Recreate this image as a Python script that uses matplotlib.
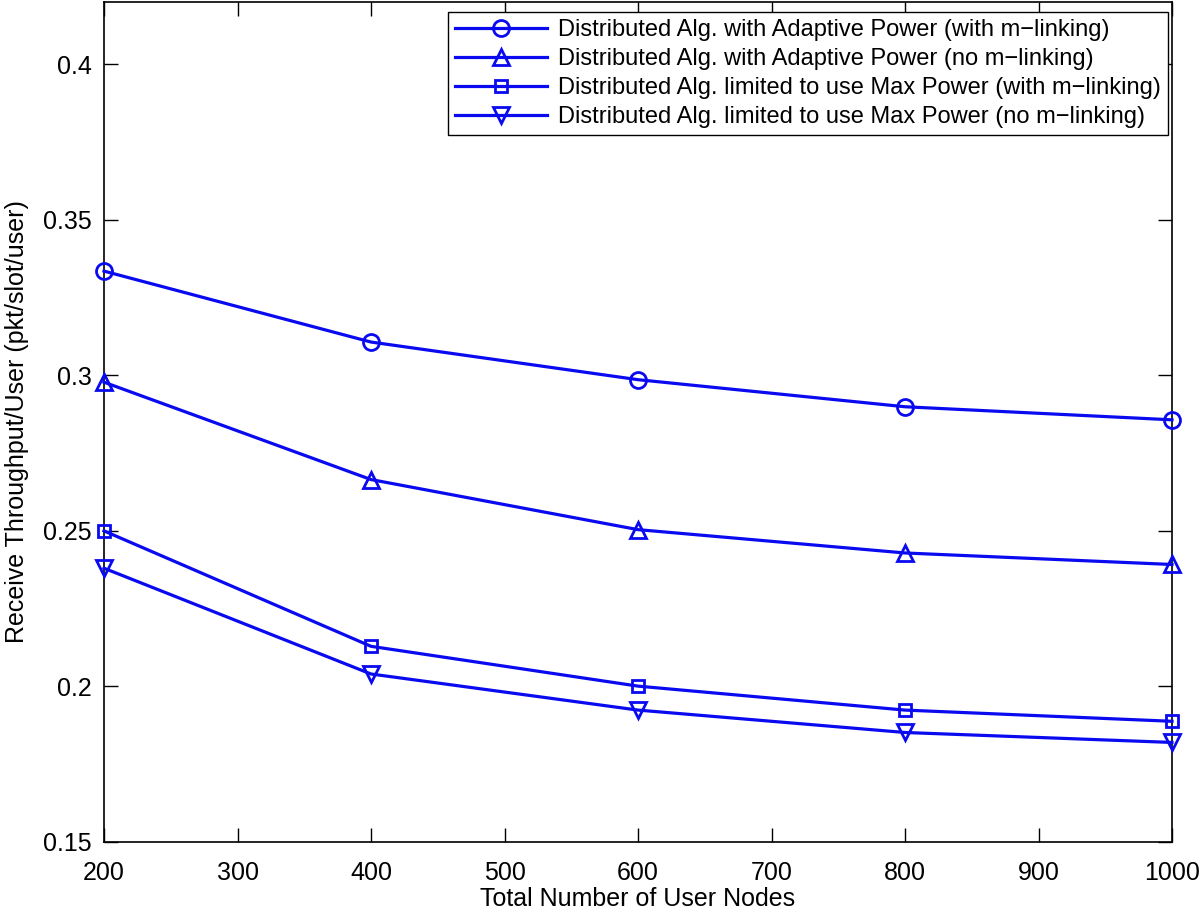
import matplotlib
matplotlib.use('Agg')
import matplotlib.pyplot as plt

plt.rcParams['font.family'] = ['Liberation Sans', 'DejaVu Sans']

nodes = [200, 400, 600, 800, 1000]

adaptive_mlink = [0.3335, 0.3107, 0.2986, 0.2899, 0.2857]
adaptive_nolink = [0.2978, 0.2665, 0.2504, 0.2429, 0.2392]
maxpow_mlink = [0.2500, 0.2129, 0.2001, 0.1924, 0.1888]
maxpow_nolink = [0.2380, 0.2040, 0.1924, 0.1852, 0.1820]

labels = [
    'Distributed Alg. with Adaptive Power (with m\u2212linking)',
    'Distributed Alg. with Adaptive Power (no m\u2212linking)',
    'Distributed Alg. limited to use Max Power (with m\u2212linking)',
    'Distributed Alg. limited to use Max Power (no m\u2212linking)',
]
markers = ['o', '^', 's', 'v']
series = [adaptive_mlink, adaptive_nolink, maxpow_mlink, maxpow_nolink]

fig = plt.figure(figsize=(12, 9.14), dpi=100)
ax = fig.add_axes([104 / 1200, 1 - 842 / 914, (1172 - 104) / 1200, 840 / 914])

msizes = [11.5, 11, 9, 11]
for vals, mk, lab, ms in zip(series, markers, labels, msizes):
    ax.plot(nodes, vals, color='#0a0af0', linewidth=2.3, marker=mk,
            markersize=ms, markerfacecolor='none', markeredgewidth=2.0,
            label=lab, clip_on=False, zorder=3)

ax.set_xlim(200, 1000)
ax.set_ylim(0.15, 0.42)
ax.set_xticks([200, 300, 400, 500, 600, 700, 800, 900, 1000])
ax.set_yticks([0.15, 0.2, 0.25, 0.3, 0.35, 0.4])
ax.set_yticklabels(['0.15', '0.2', '0.25', '0.3', '0.35', '0.4'])
ax.tick_params(direction='in', length=10, width=1, labelsize=18,
               top=True, right=True)
ax.tick_params(axis='x', pad=14)
ax.tick_params(axis='y', pad=9)
for sp in ax.spines.values():
    sp.set_linewidth(1.2)

ax.set_xlabel('Total Number of User Nodes', fontsize=18, labelpad=1)
ax.set_ylabel('Receive Throughput/User (pkt/slot/user)', fontsize=18, labelpad=10)

# legend box corner placed where it sits in the original
leg = ax.legend(loc='upper right', bbox_to_anchor=(0.9963, 0.988),
                fontsize=17, fancybox=False, framealpha=1,
                edgecolor='black', handlelength=3.9, borderaxespad=0,
                labelspacing=0.3, handletextpad=0.45, borderpad=0.3)
leg.get_frame().set_linewidth(1.0)

fig.savefig('out.png', dpi=100)
